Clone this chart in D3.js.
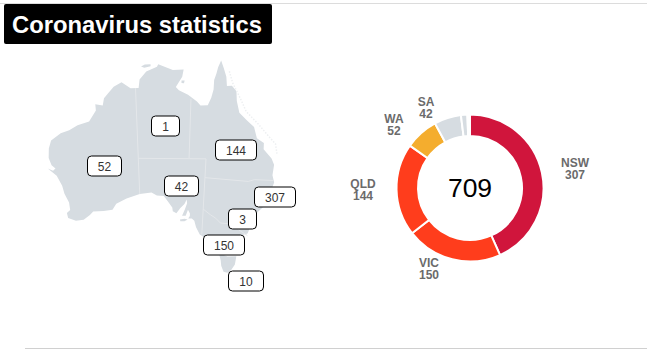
<!DOCTYPE html>
<html><head><meta charset="utf-8">
<script src="https://cdn.jsdelivr.net/npm/d3@7"></script>
<style>html,body{margin:0;padding:0;background:#fff}svg{display:block;font-family:"Liberation Sans",Arial,sans-serif}</style>
</head><body><svg id="c" width="654" height="353"></svg>
<script>
const titleText = "Coronavirus statistics";
const states = ["NSW","VIC","QLD","WA","SA","TAS","ACT","NT"];
const cases = [307,150,144,52,42,10,3,1];
const total = 709;
const donutLabelled = ["NSW","VIC","QLD","WA","SA"];
const coast = [[142.5,-10.45],[143,-11.6],[143.5,-12.9],[143.7,-14.3],[144.5,-14.2],[145.3,-15],[145.5,-16.5],[146.1,-18.3],[147.5,-19.4],[148.8,-20.3],[149.5,-22],[150.8,-22.6],[150.9,-23.6],[152.5,-24.9],[153.1,-25.8],[153.1,-27.5],[153.6,-28.6],[153,-31],[152.5,-32.5],[151.3,-33.7],[150.7,-35],[150,-37.2],[148,-37.9],[146.4,-39.1],[145.5,-38.4],[144.6,-38.2],[143.5,-38.8],[141.5,-38.4],[140.6,-38],[139.8,-36.9],[139.4,-35.9],[138.9,-35.55],[138.2,-35.6],[138.5,-35.2],[138.5,-34.8],[138.1,-34.2],[137.7,-35.15],[137,-35.2],[137.5,-34.2],[137.9,-33.2],[137.8,-32.6],[137.4,-33.3],[136.6,-34],[135.9,-34.8],[135.2,-34.5],[135.1,-33.9],[134.2,-32.9],[133.5,-32.1],[132.2,-32],[131.2,-31.5],[129,-31.7],[126.5,-32.3],[124.5,-33],[123.7,-33.9],[122,-34],[120,-33.9],[119.3,-34.4],[118,-35],[116.5,-35],[115.1,-34.4],[115,-33.6],[115.7,-33.2],[115.7,-32],[115.1,-30.5],[114.9,-29.2],[114.2,-27.5],[113.3,-26.6],[112.85,-26.1],[113.7,-26.6],[114.2,-26.3],[113.6,-25.7],[113.3,-24.5],[113.6,-23],[114.2,-21.8],[116,-20.9],[117.5,-20.6],[119,-20],[121,-19.6],[122.3,-18],[122.3,-17],[123.5,-17.3],[123.8,-16.2],[124.5,-15.5],[125.5,-14.5],[126.8,-13.9],[128.2,-14.9],[129.5,-14.9],[129.7,-13.6],[130.8,-12.4],[132.5,-11.7],[132.7,-11.3],[135,-12.2],[136.7,-12.1],[136.5,-13.2],[135.5,-14.8],[136,-15.3],[137.5,-16],[139,-17],[139.6,-17.6],[140.8,-17.5],[141.3,-16.3],[141.6,-15],[141.6,-13.5],[141.9,-12.5],[142.1,-11.5]];
const tasmania = [[144.7,-40.7],[146.5,-41.1],[148.3,-40.9],[148.2,-42.2],[147.5,-43.2],[146.8,-43.6],[146,-43.5],[145.4,-42.6],[145.2,-41.8]];
const kangaroo = [[136.6,-35.8],[137.5,-35.65],[138.1,-35.75],[137.5,-36.05],[136.7,-36.05]];
const tiwi = [[130,-11.6],[130.6,-11.3],[131.5,-11.3],[131.5,-11.6],[130.5,-11.8]];
const groote = [[136.4,-13.8],[136.9,-13.8],[136.8,-14.2],[136.4,-14.2]];
const borders = [
 [[129,-14.9],[129,-31.7]],
 [[129,-26],[141,-26]],
 [[138,-16.6],[138,-26]],
 [[141,-26],[141,-38]],
 [[141,-29],[148.9,-29],[150,-28.6],[153.5,-28.3]],
 [[141,-34],[142.4,-34.8],[143.5,-35.3],[144.5,-36],[146,-36],[147,-36],[148.2,-36.8],[150,-37.5]]
];
const reef = [[143.9,-12],[144.6,-13.8],[146,-16],[147.2,-18],[149.5,-19.8],[151.5,-21.5],[152.8,-22.5],[153.3,-24]];
const mapLabels = [["WA",52],["NT",1],["QLD",144],["SA",42],["NSW",307],["ACT",3],["VIC",150],["TAS",10]];

// layout only
const mapBox = {WA:[87.5,156,34,20],NT:[151.5,116,28,20],QLD:[215.5,140,41,20],SA:[164.5,176,34,20],NSW:[254.5,187,41,20],ACT:[228.5,209,28,20],VIC:[203.5,235,41,20],TAS:[228.5,271,35,20]};
const donutPos = {NSW:[575,163],VIC:[429,263],QLD:[363,184],WA:[394,119],SA:[426,102]};

const svg = d3.select("#c");
svg.append("line").attr("x1",0).attr("x2",647).attr("y1",3.5).attr("y2",3.5).attr("stroke","#dcdcdc");
svg.append("line").attr("x1",25).attr("x2",647).attr("y1",348.5).attr("y2",348.5).attr("stroke","#d0d0d0");
svg.append("rect").attr("x",4).attr("y",4).attr("width",268).attr("height",40).attr("rx",2).attr("fill","#000");
svg.append("text").attr("x",12).attr("y",33).attr("fill","#fff").attr("font-size",23.8).attr("font-weight",700).text(titleText);

// map: conic projection, calibrated on the state-border corners
const projection = d3.geoConicConformal().parallels([-18,-36]).rotate([-134,0]).scale(1000).translate([0,0]);
const dist = Math.abs(projection([141,-26])[0]-projection([129,-26])[0]);
projection.scale(1000*67.7/dist);
const a = projection([129,-26]);
projection.translate([138.3-a[0],158.3-a[1]]);
const pathOf = pts => "M"+pts.map(p=>projection(p).join(",")).join("L");
svg.append("path").attr("d",[coast,tasmania,kangaroo,tiwi,groote].map(r=>pathOf(r)+"Z").join("")).attr("fill","#d6dce1");
svg.append("path").attr("d",pathOf(reef)).attr("fill","none").attr("stroke","#eef0f2").attr("stroke-width",1.5).attr("stroke-dasharray","1.5 1.5");
svg.selectAll(".b").data(borders).join("path").attr("class","b").attr("d",pathOf).attr("fill","none").attr("stroke","#e4e7ea").attr("stroke-width",1);

const g = svg.selectAll(".lab").data(mapLabels).join("g").attr("class","lab");
g.append("rect").attr("x",d=>mapBox[d[0]][0]).attr("y",d=>mapBox[d[0]][1]).attr("width",d=>mapBox[d[0]][2]).attr("height",d=>mapBox[d[0]][3])
 .attr("rx",4).attr("fill","#fff").attr("stroke","#000").attr("stroke-width",1);
g.append("text").attr("x",d=>mapBox[d[0]][0]+mapBox[d[0]][2]/2).attr("y",d=>mapBox[d[0]][1]+14.5).attr("text-anchor","middle").attr("font-size",12).attr("fill","#333").text(d=>d[1]);

// donut
const cx=470, cy=188;
const pie = d3.pie().sort(null).value(d=>d);
const arc = d3.arc().innerRadius(52).outerRadius(73.5);
const colors = d3.scaleOrdinal().domain(states).range(["#d0153c","#ff3d1c","#ff3d1c","#f4ad2e","#d6dce1","#d6dce1","#d6dce1","#d6dce1"]);
const dg = svg.append("g").attr("transform",`translate(${cx},${cy})`);
dg.selectAll("path").data(pie(cases)).join("path").attr("d",arc).attr("fill",(d,i)=>colors(states[i])).attr("stroke","#fff").attr("stroke-width",2);
svg.append("text").attr("x",cx).attr("y",cy+9).attr("text-anchor","middle").attr("font-size",26.5).attr("fill","#000").text(total);
donutLabelled.forEach(s=>{
  const p=donutPos[s], v=cases[states.indexOf(s)];
  const t=svg.append("text").attr("text-anchor","middle").attr("font-size",12).attr("font-weight",700).attr("fill","#6b6b6b");
  t.append("tspan").attr("x",p[0]).attr("y",p[1]+4).text(s);
  t.append("tspan").attr("x",p[0]).attr("y",p[1]+16).text(v);
});
</script></body></html>
